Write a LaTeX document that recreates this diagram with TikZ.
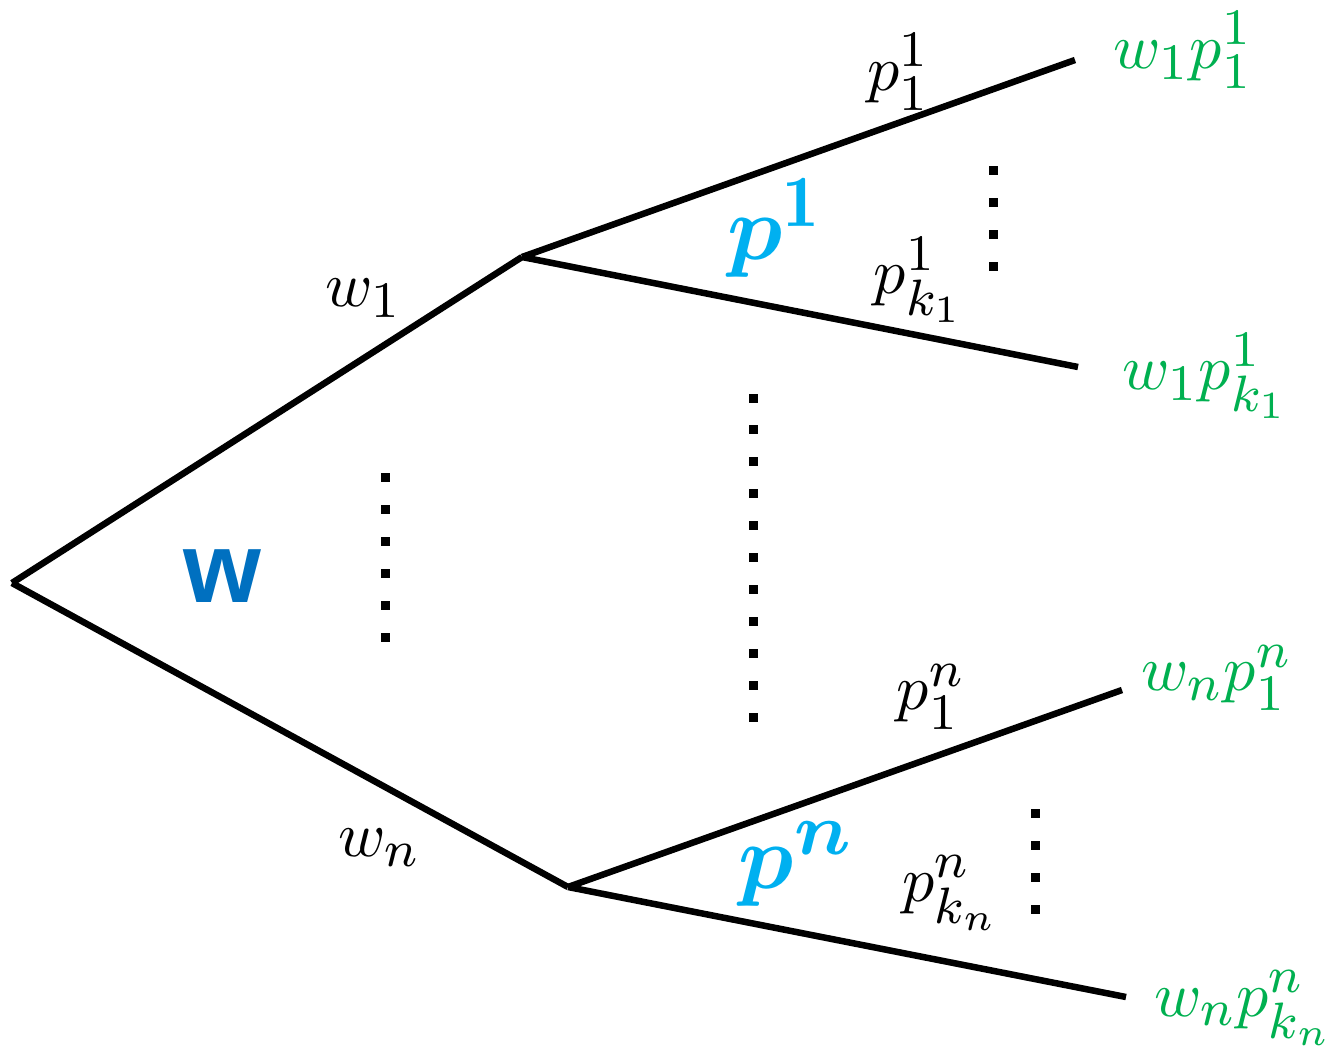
\documentclass[tikz,border=0pt]{standalone}
\usepackage{amsmath}
\usepackage{graphicx}
\usepackage{fontspec}
\DeclareMathSizes{10}{10}{8}{6}
\newfontfamily\wfont{Liberation Sans}
\definecolor{leafgreen}{HTML}{00B050}
\definecolor{pblue}{HTML}{00B0F0}
\definecolor{wblue}{HTML}{0070C0}
\newcommand{\myscaleA}[1]{\scalebox{6.4}{#1}}
\newcommand{\myscaleB}[1]{\scalebox{9.2}{#1}}
\begin{document}
\begin{tikzpicture}[x=1pt,y=-1pt,
  branch/.style={line width=6.5pt},
  lab/.style={inner sep=0pt},
  leaf/.style={lab,text=leafgreen},
  plab/.style={inner sep=0pt,text=pblue},
  dotsq/.style={fill=black,minimum size=9pt,inner sep=0pt}]
\useasboundingbox (0,0) rectangle (1328,1050);
\coordinate (root) at (12,583);
\coordinate (up) at (522,257);
\coordinate (lo) at (568,887);
\coordinate (l1) at (1075,60);
\coordinate (l2) at (1078,367);
\coordinate (l3) at (1122,690);
\coordinate (l4) at (1126,997);
\draw[branch] (root) -- (up);
\draw[branch] (up) -- (l1);
\draw[branch] (up) -- (l2);
\draw[branch] (root) -- (lo);
\draw[branch] (lo) -- (l3);
\draw[branch] (lo) -- (l4);
% labels
\node[lab] (lw1) at (364,298) {\myscaleA{$w_1$}};
\node[lab] (lwn) at (380,848) {\myscaleA{$w_n$}};
\node[lab] (lp11) at (899,72) {\myscaleA{$p_1^1$}};
\node[lab] (lpk1) at (919,280) {\myscaleA{$p_{k_1}^1$}};
\node[lab] (lp1n) at (931,697) {\myscaleA{$p_1^n$}};
\node[lab] (lpkn) at (951,893) {\myscaleA{$p_{k_n}^n$}};
\node[plab] (P1) at (776,228) {\myscaleB{$\boldsymbol{p}^{\mathbf{1}}$}};
\node[plab] (Pn) at (797,864) {\myscaleB{$\boldsymbol{p}^{\boldsymbol{n}}$}};
\node[inner sep=0pt,text=wblue] (W) at (222,576) {\scalebox{10}{\wfont\bfseries w}};
\node[leaf] (g1) at (1183,50) {\myscaleA{$w_1p_1^1$}};
\node[leaf] (g2) at (1206,376) {\myscaleA{$w_1p_{k_1}^1$}};
\node[leaf] (g3) at (1217,678) {\myscaleA{$w_np_1^n$}};
\node[leaf] (g4) at (1244,1008) {\myscaleA{$w_np_{k_n}^n$}};
% dots
\foreach \i in {0,...,3} \node[dotsq] (da\i) at (993,170+32*\i) {};
\foreach \i in {0,...,5} \node[dotsq] (db\i) at (385,477+32*\i) {};
\foreach \i in {0,...,10} \node[dotsq] (dc\i) at (753,398+31.9*\i) {};
\foreach \i in {0,...,3} \node[dotsq] (dd\i) at (1035,813+32*\i) {};
\end{tikzpicture}
\end{document}
